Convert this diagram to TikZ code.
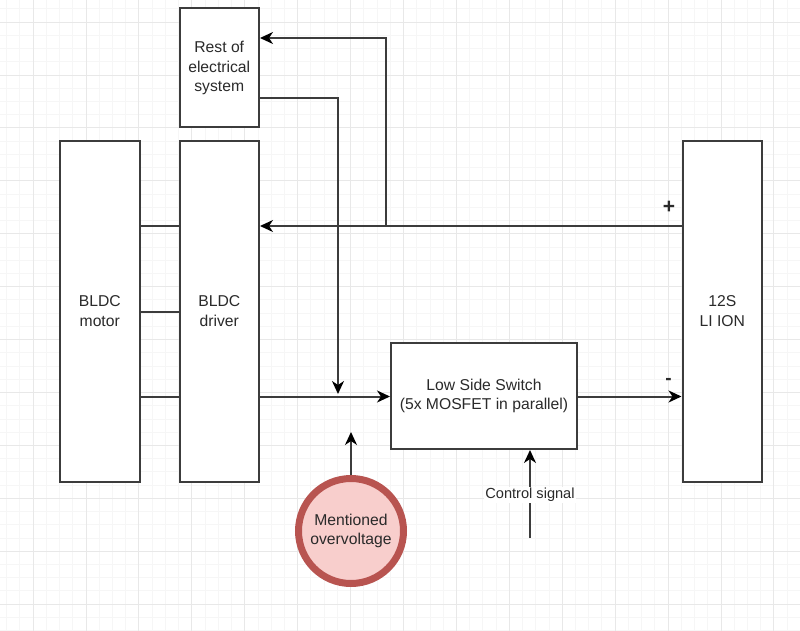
\documentclass[tikz,border=0pt]{standalone}
\usepackage{fontspec}
\setmainfont{Liberation Sans}
\usetikzlibrary{arrows.meta}
\definecolor{gridminor}{HTML}{F6F6F6}
\definecolor{gridmajor}{HTML}{E8E8E8}
\definecolor{ink}{HTML}{2A2A2A}
\definecolor{edge}{HTML}{3C3C3C}
\definecolor{redfill}{HTML}{F8CECC}
\definecolor{redline}{HTML}{B85450}
\tikzset{
  x=1pt,y=-1pt,
  blockbox/.style={draw=edge,fill=white,line width=2pt,align=center,inner sep=0pt,font=\fontsize{15.7}{19.5}\selectfont,text=ink},
  wire/.style={draw=edge,line width=2pt},
  arrowwire/.style={wire,-{Stealth[length=13pt,width=12pt,inset=4pt,color=black]}},
  plain/.style={font=\fontsize{14}{19.5}\selectfont,text=ink,inner sep=1pt,align=center},
}
\begin{document}
\begin{tikzpicture}
\useasboundingbox (0,0) rectangle (800,631);
\fill[white] (0,0) rectangle (800,631);
% grid
\foreach \i in {-2,...,60} {
  \draw[gridminor,line width=0.8pt] ({33+13.23*\i},0) -- ({33+13.23*\i},631);
  \draw[gridminor,line width=0.8pt] (0,{22+13.23*\i}) -- (800,{22+13.23*\i});
}
\foreach \i in {0,...,15} {
  \draw[gridmajor,line width=0.8pt] ({33+52.92*\i},0) -- ({33+52.92*\i},631);
  \draw[gridmajor,line width=0.8pt] (0,{22+52.92*\i}) -- (800,{22+52.92*\i});
}
% blocks
\node[blockbox,minimum width=79.5pt,minimum height=119pt] (rest) at (219.25,68) {Rest of\\electrical\\system};
\node[blockbox,minimum width=79.5pt,minimum height=340.5pt] (motor) at (99.75,311.25) {BLDC\\motor};
\node[blockbox,minimum width=79.5pt,minimum height=340.5pt] (driver) at (219.25,311.25) {BLDC\\driver};
\node[blockbox,minimum width=79.5pt,minimum height=340.5pt] (battery) at (722.25,311.25) {12S\\LI ION};
\node[blockbox,minimum width=186pt,minimum height=106pt] (switch) at (484,396) {Low Side Switch\\(5x MOSFET in parallel)};
\node[circle,draw=redline,fill=redfill,line width=7pt,minimum size=105pt,inner sep=0pt,align=center,font=\fontsize{15.7}{19.5}\selectfont,text=ink] (over) at (351,531) {Mentioned\\overvoltage};
% free ends and bends
\coordinate (yplus) at (0,226);
\coordinate (ymid) at (0,311.5);
\coordinate (ylow) at (0,396.5);
\coordinate (tap) at (386,226);
\coordinate (feed) at (386,38);
\coordinate (restout) at (338,98);
\coordinate (restdown) at (338,394);
\coordinate (overtip) at (351,432);
\coordinate (ctrlstart) at (530,538);
% connectors
\draw[wire] (motor.east |- yplus) -- (driver.west |- yplus);
\draw[wire] (motor.east |- ymid) -- (driver.west |- ymid);
\draw[wire] (motor.east |- ylow) -- (driver.west |- ylow);
\draw[arrowwire] (battery.west |- yplus) -- (driver.east |- yplus);
\draw[arrowwire] (tap) -- (feed) -- (rest.east |- feed);
\draw[arrowwire] (rest.east |- restout) -- (restout) -- (restdown);
\draw[arrowwire] (driver.east |- ylow) -- (switch.west |- ylow);
\draw[arrowwire] (switch.east |- ylow) -- (battery.west |- ylow);
\draw[arrowwire] (over.north) -- (overtip);
\draw[arrowwire] (ctrlstart) -- (ctrlstart |- switch.south);
% labels
\node[plain,fill=white,font=\fontsize{14.6}{15}\selectfont] (ctrl) at (530,495) {Control signal};
\node[plain,font=\fontsize{21}{22}\selectfont\bfseries] (plus) at (669,207) {+};
\node[plain,font=\fontsize{19}{19}\selectfont\bfseries] (minus) at (668.5,381) {-};
\end{tikzpicture}
\end{document}
